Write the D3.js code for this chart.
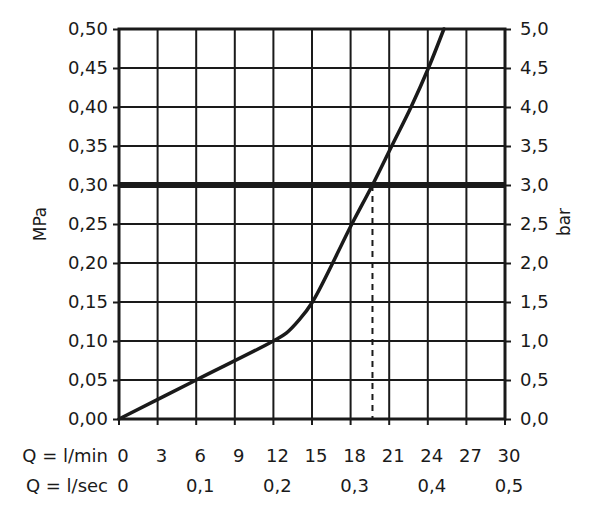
<!DOCTYPE html>
<html>
<head>
<meta charset="utf-8">
<script src="https://cdn.jsdelivr.net/npm/d3@7"></script>
<style>
  body { margin: 0; background: #fff; }
  svg text { font-family: "DejaVu Sans", sans-serif; fill: #1a1a1a; }
</style>
</head>
<body>
<svg id="chart" width="600" height="512"></svg>
<script>
// flow in l/min vs pressure in MPa
const flow = [0, 6, 12, 13, 14, 15, 18.1, 19.7, 21.2, 22.7, 24.05, 25.25];
const pressure = [0, 0.05, 0.10, 0.110, 0.127, 0.149, 0.25, 0.30, 0.35, 0.40, 0.45, 0.50];

const mpaTicks = [0, 0.05, 0.10, 0.15, 0.20, 0.25, 0.30, 0.35, 0.40, 0.45, 0.50];
const barTicks = [0, 0.5, 1.0, 1.5, 2.0, 2.5, 3.0, 3.5, 4.0, 4.5, 5.0];
const minTicks = [0, 3, 6, 9, 12, 15, 18, 21, 24, 27, 30];
const secTicks = [0, 0.1, 0.2, 0.3, 0.4, 0.5];

const refPressure = 0.30;
const refFlow = 19.7;

const plotLeft = 119, plotRight = 505, plotTop = 29, plotBottom = 419;

const svg = d3.select("#chart");

const x = d3.scaleLinear().domain([0, 30]).range([plotLeft, plotRight]);
const y = d3.scaleLinear().domain([0, 0.5]).range([plotBottom, plotTop]);
const yBar = d3.scaleLinear().domain([0, 5]).range([plotBottom, plotTop]);
const xSec = d3.scaleLinear().domain([0, 0.5]).range([plotLeft, plotRight]);

const comma = (f) => (d) => d3.format(f)(d).replace(".", ",");

// grid
svg.append("g")
    .selectAll("line")
    .data(minTicks.slice(1, -1))
    .join("line")
    .attr("x1", d => x(d)).attr("x2", d => x(d))
    .attr("y1", plotTop).attr("y2", plotBottom)
    .attr("stroke", "#1a1a1a").attr("stroke-width", 2);

svg.append("g")
    .selectAll("line")
    .data(mpaTicks.slice(1, -1))
    .join("line")
    .attr("x1", plotLeft).attr("x2", plotRight)
    .attr("y1", d => y(d)).attr("y2", d => y(d))
    .attr("stroke", "#1a1a1a").attr("stroke-width", 2);

// left axis
const yAxis = svg.append("g")
    .attr("transform", `translate(${plotLeft},0)`)
    .call(d3.axisLeft(y).tickValues(mpaTicks).tickFormat(comma(".2f")).tickSize(6).tickPadding(5));
yAxis.select(".domain").remove();
yAxis.selectAll("line").attr("stroke", "#1a1a1a").attr("stroke-width", 2);
yAxis.selectAll("text").attr("font-size", 18).attr("fill", "#1a1a1a");

// right axis
const yAxisR = svg.append("g")
    .attr("transform", `translate(${plotRight},0)`)
    .call(d3.axisRight(yBar).tickValues(barTicks).tickFormat(comma(".1f")).tickSize(6).tickPadding(9));
yAxisR.select(".domain").remove();
yAxisR.selectAll("line").attr("stroke", "#1a1a1a").attr("stroke-width", 2);
yAxisR.selectAll("text").attr("font-size", 18).attr("fill", "#1a1a1a");

// bottom ticks
svg.append("g")
    .selectAll("line")
    .data(minTicks)
    .join("line")
    .attr("x1", d => x(d)).attr("x2", d => x(d))
    .attr("y1", plotBottom).attr("y2", plotBottom + 6)
    .attr("stroke", "#1a1a1a").attr("stroke-width", 2);

// frame
svg.append("rect")
    .attr("x", plotLeft).attr("y", plotTop)
    .attr("width", plotRight - plotLeft).attr("height", plotBottom - plotTop)
    .attr("fill", "none").attr("stroke", "#1a1a1a").attr("stroke-width", 3);

// bottom labels
svg.append("g")
    .selectAll("text")
    .data(minTicks)
    .join("text")
    .attr("x", d => x(d) + 4).attr("y", 462)
    .attr("text-anchor", "middle").attr("font-size", 18)
    .text(d => d);

svg.append("g")
    .selectAll("text")
    .data(secTicks)
    .join("text")
    .attr("x", d => xSec(d) + 4).attr("y", 492)
    .attr("text-anchor", "middle").attr("font-size", 18)
    .text(d => d === 0 ? "0" : comma(".1f")(d));

svg.append("text").attr("x", 108).attr("y", 462).attr("text-anchor", "end")
    .attr("font-size", 18).text("Q = l/min");
svg.append("text").attr("x", 108).attr("y", 492).attr("text-anchor", "end")
    .attr("font-size", 18).text("Q = l/sec");

// axis titles
svg.append("text")
    .attr("transform", "translate(46,224) rotate(-90)")
    .attr("text-anchor", "middle").attr("font-size", 17).text("MPa");
svg.append("text")
    .attr("transform", "translate(570,222) rotate(-90)")
    .attr("text-anchor", "middle").attr("font-size", 17).text("bar");

// reference line at 0.3 MPa
svg.append("line")
    .attr("x1", plotLeft).attr("x2", plotRight)
    .attr("y1", y(refPressure)).attr("y2", y(refPressure))
    .attr("stroke", "#1a1a1a").attr("stroke-width", 6);

svg.append("line")
    .attr("x1", x(refFlow)).attr("x2", x(refFlow))
    .attr("y1", y(refPressure)).attr("y2", plotBottom)
    .attr("stroke", "#1a1a1a").attr("stroke-width", 2)
    .attr("stroke-dasharray", "6,5");

// curve
const line = d3.line()
    .x((d, i) => x(flow[i]))
    .y(d => y(d))
    .curve(d3.curveCatmullRom.alpha(0.5));

svg.append("path")
    .attr("d", line(pressure))
    .attr("fill", "none")
    .attr("stroke", "#1a1a1a")
    .attr("stroke-width", 3.5)
    .attr("stroke-linecap", "round");
</script>
</body>
</html>
